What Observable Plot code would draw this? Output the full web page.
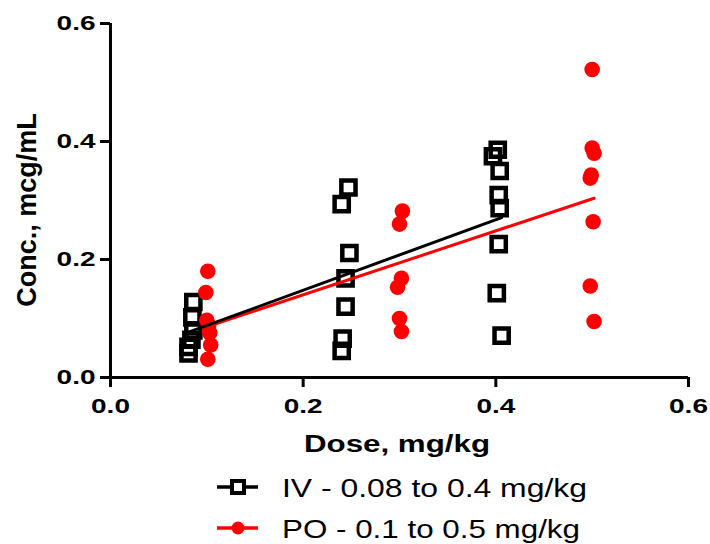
<!DOCTYPE html>
<html><head><meta charset="utf-8">
<script src="https://cdn.jsdelivr.net/npm/d3@7"></script>
<script src="https://cdn.jsdelivr.net/npm/@observablehq/plot@0.6"></script>
<style>body{margin:0;background:#fff;} svg{display:block}</style>
</head><body>
<div id="chart"></div>
<script>
// IV group (open squares)
const ivDose = [0.086,0.085,0.086,0.084,0.081,0.081,
                0.247,0.240,0.248,0.244,0.244,0.241,0.240,
                0.402,0.397,0.404,0.403,0.404,0.403,0.401,0.406];
const ivConc = [0.128,0.102,0.080,0.064,0.052,0.041,
                0.322,0.294,0.211,0.168,0.120,0.066,0.045,
                0.386,0.375,0.350,0.309,0.287,0.226,0.143,0.071];
// PO group (red dots)
const poDose = [0.101,0.099,0.100,0.102,0.103,0.104,0.101,
                0.303,0.300,0.302,0.298,0.300,0.302,
                0.500,0.500,0.502,0.499,0.498,0.501,0.498,0.502];
const poConc = [0.180,0.144,0.097,0.088,0.076,0.055,0.031,
                0.282,0.260,0.168,0.153,0.100,0.078,
                0.522,0.389,0.380,0.343,0.338,0.264,0.155,0.095];
const xTicks = [0, 0.2, 0.4, 0.6];
const yTicks = [0, 0.2, 0.4, 0.6];
const xTitle = "Dose, mg/kg";
const yTitle = "Conc., mcg/mL";
const legendLabels = ["IV - 0.08 to 0.4 mg/kg", "PO - 0.1 to 0.5 mg/kg"];

const iv = ivDose.map((d, i) => ({dose: d, conc: ivConc[i]}));
const po = poDose.map((d, i) => ({dose: d, conc: poConc[i]}));
const FONT = "'Liberation Sans', Arial, Helvetica, sans-serif";

const plot = Plot.plot({
  width: 710, height: 470,
  marginLeft: 110, marginRight: 22, marginTop: 23, marginBottom: 93,
  style: {fontFamily: FONT, color: "#000", background: "#fff", overflow: "visible"},
  x: {domain: [0, 0.6]},
  y: {domain: [0, 0.6]},
  marks: [
    Plot.dot(iv, {x: "dose", y: "conc", symbol: "square", r: 8, stroke: "#000", strokeWidth: 4.5, fill: "none"}),
    Plot.dot(po, {x: "dose", y: "conc", r: 7.8, fill: "#ff0000", stroke: "none"}),
    Plot.linearRegressionY(po, {x: "dose", y: "conc", stroke: "#ff0000", strokeWidth: 3, ci: 0}),
    Plot.linearRegressionY(iv, {x: "dose", y: "conc", stroke: "#000", strokeWidth: 3, ci: 0}),
    Plot.ruleY([0], {stroke: "#000", strokeWidth: 3}),
    Plot.ruleX([0], {stroke: "#000", strokeWidth: 3}),
    Plot.axisX({ticks: xTicks, tickFormat: d3.format(".1f"), tickSize: 10, tickPadding: 11,
      stroke: "#000", strokeWidth: 3, fontSize: 20, fontWeight: "bold", label: null}),
    Plot.axisY({ticks: yTicks, tickFormat: d3.format(".1f"), tickSize: 10, tickPadding: 5,
      stroke: "#000", strokeWidth: 3, fontSize: 20, fontWeight: "bold", label: null})
  ]
});
document.getElementById("chart").appendChild(plot);

function stretch(el, f) {
  const w = el.getComputedTextLength();
  el.setAttribute("textLength", (w * f).toFixed(1));
  el.setAttribute("lengthAdjust", "spacingAndGlyphs");
}
plot.querySelectorAll('g[aria-label="x-axis tick label"] text, g[aria-label="y-axis tick label"] text')
  .forEach(t => stretch(t, 1.4));

const s = d3.select(plot);
const xt = s.append("text").attr("x", 397).attr("y", 452).attr("text-anchor", "middle")
  .attr("font-family", FONT).attr("font-weight", "bold").attr("font-size", 23).attr("fill", "#000")
  .text(xTitle);
stretch(xt.node(), 1.36);
s.append("text").attr("transform", "translate(36,210) rotate(-90)").attr("text-anchor", "middle")
  .attr("font-family", FONT).attr("font-weight", "bold").attr("font-size", 27).attr("fill", "#000")
  .text(yTitle);

// Legend below the chart
const leg = d3.select("#chart").append("svg").attr("width", 710).attr("height", 74);
const rows = [
  {label: legendLabels[0], color: "#000", sym: "square", y: 17, w: 305},
  {label: legendLabels[1], color: "#ff0000", sym: "circle", y: 58, w: 298}
];
rows.forEach(r => {
  leg.append("line").attr("x1", 217).attr("x2", 258).attr("y1", r.y).attr("y2", r.y)
    .attr("stroke", r.color).attr("stroke-width", 3.5);
  if (r.sym === "square") {
    leg.append("rect").attr("x", 232).attr("y", r.y - 6).attr("width", 12).attr("height", 12)
      .attr("fill", "#fff").attr("stroke", "#000").attr("stroke-width", 4);
  } else {
    leg.append("circle").attr("cx", 238).attr("cy", r.y).attr("r", 6.5).attr("fill", r.color);
  }
  const t = leg.append("text").attr("x", 282).attr("y", r.y + 10)
    .attr("font-family", FONT).attr("font-size", 25).attr("fill", "#000").text(r.label);
  t.attr("textLength", r.w).attr("lengthAdjust", "spacingAndGlyphs");
});
</script>
</body></html>
